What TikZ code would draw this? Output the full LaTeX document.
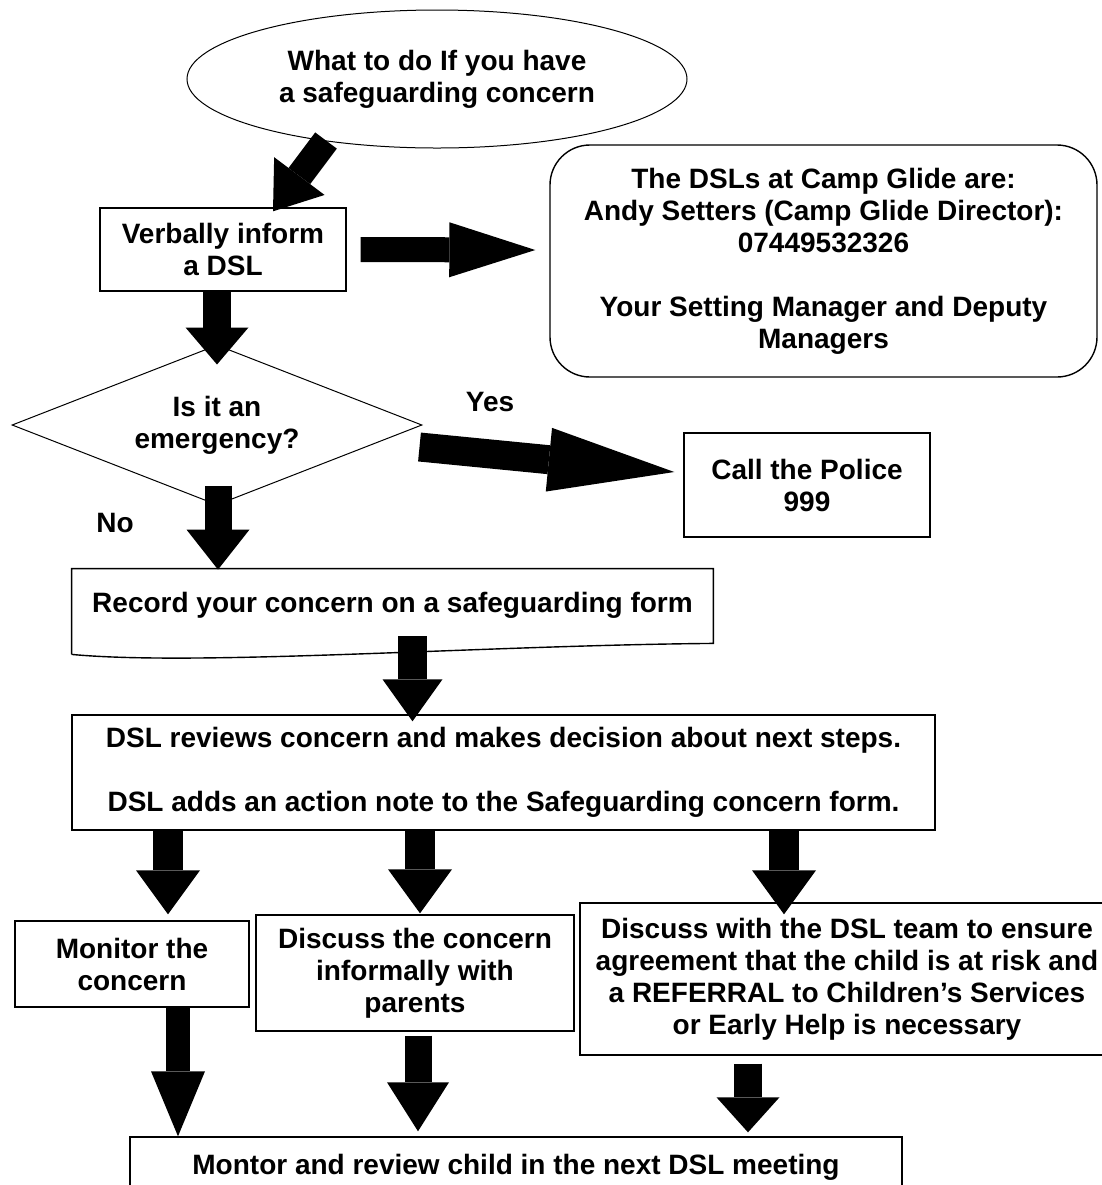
\documentclass[tikz,border=0pt]{standalone}
\usepackage{fontspec}
\setmainfont{Liberation Sans}
\usetikzlibrary{arrows.meta,positioning,calc,shapes.geometric}

\begin{document}
\begin{tikzpicture}[x=0.5pt,y=-0.5pt,
  every node/.style={font=\fontsize{14pt}{16pt}\selectfont\bfseries,align=center,inner sep=0pt},
  box/.style={draw,line width=0.7pt,rectangle},
  fat/.style n args={3}{line width=#1pt,-{Triangle[length=#2pt,width=#3pt,line width=0pt]}}]
  \path[use as bounding box,clip] (0,0) rectangle (1102,1185);
  \node[draw,ellipse,line width=0.5pt,minimum width=250pt,minimum height=69pt] (start) at (437,79) {What to do If you have\\a safeguarding concern};
  \node[box,minimum width=123pt,minimum height=41.5pt] (inform) at (223,249.5) {Verbally inform\\a DSL};
  \node[box,rounded corners=20pt,minimum width=273.5pt,minimum height=116pt] (dsls) at (823.5,261)
    {The DSLs at Camp Glide are:\\Andy Setters (Camp Glide Director):\\07449532326\\[16pt]Your Setting Manager and Deputy\\Managers};
  \node[draw,diamond,aspect=2.56,line width=0.5pt,minimum width=205pt,minimum height=80pt] (emer) at (217,425) {Is it an\\emergency?};
  \node (yes) at (490,402) {Yes};
  \node (no) at (115,523) {No};
  \node[box,minimum width=123pt,minimum height=52pt] (police) at (807,485) {Call the Police\\999};
  \node[minimum width=320.5pt,minimum height=36pt] (record) at (392.5,605) {Record your concern on a safeguarding form};
  \draw[line width=0.7pt] ($(record.south west)+(0,13)$) -- (record.north west) -- (record.north east) -- ($(record.south east)+(0,2)$)
    .. controls ($(record.south east)+(-233,4)$) and ($(record.south west)+(128,25)$) .. ($(record.south west)+(0,13)$);
  \node[box,minimum width=431.5pt,minimum height=57.5pt] (review) at (503.5,772.5)
    {DSL reviews concern and makes decision about next steps.\\[16pt]DSL adds an action note to the Safeguarding concern form.};
  \node[box,minimum width=117pt,minimum height=43pt] (monitor) at (132,964) {Monitor the\\concern};
  \node[box,minimum width=159pt,minimum height=58pt] (parents) at (415,973) {Discuss the concern\\informally with\\parents};
  \node[box,minimum width=267pt,minimum height=76pt] (referral) at (847,979)
    {Discuss with the DSL team to ensure\\agreement that the child is at risk and\\a REFERRAL to Children’s Services\\or Early Help is necessary};
  \node[box,minimum width=386pt,minimum height=30pt] (final) at (516,1167) {Montor and review child in the next DSL meeting};
  \draw[fat={13.5}{22}{31.5}] ($(start.south)+(-111,-8)$) -- ($(inform.north)+(50,4)$);
  \draw[fat={12.5}{43}{27.5}] ($(inform.east)+(14,0)$) -- ($(dsls.west)+(-14,-11)$);
  \draw[fat={14}{18.5}{31.5}] (emer.north |- inform.south) -- ($(emer.north)+(0,20)$);
  \draw[fat={14.5}{63}{32}] ($(emer.east)+(-3,22)$) -- ($(police.west)+(-9,-13)$);
  \draw[fat={13.5}{20}{31.5}] ($(emer.south)+(1,-20)$) -- ($(emer.south |- record.north)+(1,1)$);
  \draw[fat={14.5}{21}{30}] ($(record.south)+(20,-5)$) -- ($(review.north)+(-91,7)$);
  \draw[fat={15}{22}{32}] ($(review.south -| monitor.north)+(36,0)$) -- ($(monitor.north)+(36,-6)$);
  \draw[fat={15}{22}{32}] ($(review.south -| parents.north)+(5,0)$) -- ($(parents.north)+(5,-1)$);
  \draw[fat={15}{22}{32}] ($(review.south -| referral.north)+(-63,0)$) -- ($(referral.north)+(-63,12)$);
  \draw[fat={12}{32.5}{27}] ($(monitor.south)+(46,0)$) -- ($(monitor.south |- final.north)+(46,0)$);
  \draw[fat={13.5}{24.5}{31}] ($(parents.south)+(3,4)$) -- ($(parents.south |- final.north)+(3,-5)$);
  \draw[fat={14}{17.5}{31.5}] ($(referral.south)+(-99,8)$) -- ($(referral.south |- final.north)+(-99,-4)$);
\end{tikzpicture}
\end{document}
